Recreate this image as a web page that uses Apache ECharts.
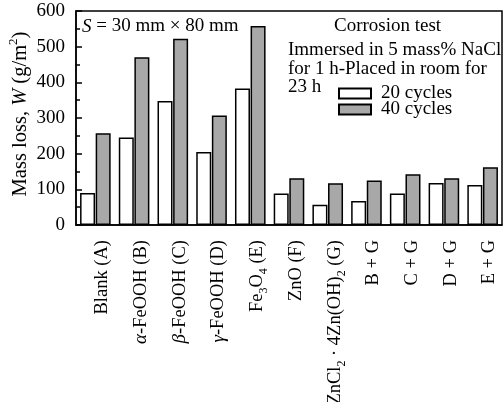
<!DOCTYPE html>
<html>
<head>
<meta charset="utf-8">
<script src="https://cdn.jsdelivr.net/npm/echarts@6/dist/echarts.min.js"></script>
<style>
  html, body { margin: 0; padding: 0; background: #fff; }
  #chart { width: 503px; height: 402px; }
</style>
</head>
<body>
<div id="chart"></div>
<script>
// Category labels (rich-text markup for italics and subscripts)
const categories = [
    'Blank (A)',
    '{i|α}-FeOOH (B)',
    '{i|β}-FeOOH (C)',
    '{i|γ}-FeOOH (D)',
    'Fe{s|3}O{s|4} (E)',
    'ZnO (F)',
    'ZnCl{s|2} · 4Zn(OH){s|2} (G)',
    'B + G',
    'C + G',
    'D + G',
    'E + G'
];
const cycles20 = [90, 245, 348, 205, 383, 88, 57, 67, 88, 118, 112];
const cycles40 = [257, 470, 522, 307, 558, 131, 117, 125, 142, 131, 162];
const yTicks = [0, 100, 200, 300, 400, 500, 600];

const chart = echarts.init(document.getElementById('chart'));
const serif = '"Liberation Serif", "DejaVu Serif", serif';
const fs = 19;

const richStyles = {
    i: { fontFamily: serif, fontSize: fs, fontStyle: 'italic', color: '#000' },
    s: { fontFamily: serif, fontSize: 12, color: '#000', verticalAlign: 'bottom', lineHeight: 26 },
    sup: { fontFamily: serif, fontSize: 12, color: '#000', verticalAlign: 'top', lineHeight: 26 }
};

const nameRich = {
    i: { fontFamily: serif, fontSize: 20.5, fontStyle: 'italic', color: '#000' },
    sup: { fontFamily: serif, fontSize: 13, color: '#000', verticalAlign: 'top', lineHeight: 28 }
};

const option = {
    animation: false,
    grid: {
        left: 76, right: 1, top: 11, bottom: 177,
        outerBoundsMode: 'none',
        show: true, borderColor: '#000', borderWidth: 1.5
    },
    legend: {
        orient: 'vertical',
        left: 333, top: 79,
        itemWidth: 32, itemHeight: 10, itemGap: -3,
        icon: 'rect',
        textStyle: { fontFamily: serif, fontSize: fs, color: '#000', padding: [0, 0, 0, 5] },
        data: ['20 cycles', '40 cycles']
    },
    xAxis: {
        type: 'category',
        data: categories,
        axisLine: { lineStyle: { color: '#000', width: 1.5 } },
        axisTick: { show: false },
        axisLabel: {
            rotate: 90,
            interval: 0,
            margin: 15,
            padding: [14, 0, 0, 0],
            fontFamily: serif,
            fontSize: 18.5,
            color: '#000',
            rich: richStyles
        }
    },
    yAxis: {
        type: 'value',
        min: 0, max: 600, interval: 100,
        name: 'Mass loss, {i|W} (g/m{sup|2})',
        nameLocation: 'middle',
        nameMoveOverlap: false,
        nameGap: 41,
        nameTextStyle: {
            fontFamily: serif, fontSize: 20.5, color: '#000',
            padding: [0, 0, 0, 8],
            rich: nameRich
        },
        axisLine: { show: true, lineStyle: { color: '#000', width: 1.5 } },
        axisTick: { show: true, inside: true, length: 6, lineStyle: { color: '#000', width: 1.5 } },
        minorTick: { show: true, splitNumber: 2, length: 4, lineStyle: { color: '#000', width: 1.5 } },
        splitLine: { show: false },
        axisLabel: {
            margin: 11,
            fontFamily: serif, fontSize: fs, color: '#000',
            formatter: v => yTicks.includes(v) ? String(v) : ''
        }
    },
    series: [
        {
            name: '20 cycles',
            type: 'bar',
            data: cycles20,
            barWidth: 15,
            barGap: '4%',
            itemStyle: { color: '#fff', borderColor: '#000', borderWidth: 1.5 }
        },
        {
            name: '40 cycles',
            type: 'bar',
            data: cycles40,
            barWidth: 15,
            itemStyle: { color: '#a8a8a8', borderColor: '#000', borderWidth: 1.5 }
        }
    ],
    graphic: [
        {
            type: 'text', left: 82, top: 17,
            style: {
                text: '{i|S} = 30 mm × 80 mm',
                fontFamily: serif, fontSize: fs, fill: '#000',
                backgroundColor: '#fff',
                rich: { i: { fontFamily: serif, fontSize: fs, fontStyle: 'italic' } }
            }
        },
        {
            type: 'text', left: 334, top: 17,
            style: { text: 'Corrosion test', fontFamily: serif, fontSize: fs, fill: '#000' }
        },
        {
            type: 'text', left: 288, top: 41,
            style: {
                text: 'Immersed in 5 mass% NaCl\nfor 1 h-Placed in room for\n23 h',
                fontFamily: serif, fontSize: fs, lineHeight: 18.5, fill: '#000'
            }
        }
    ]
};

chart.setOption(option);
</script>
</body>
</html>
